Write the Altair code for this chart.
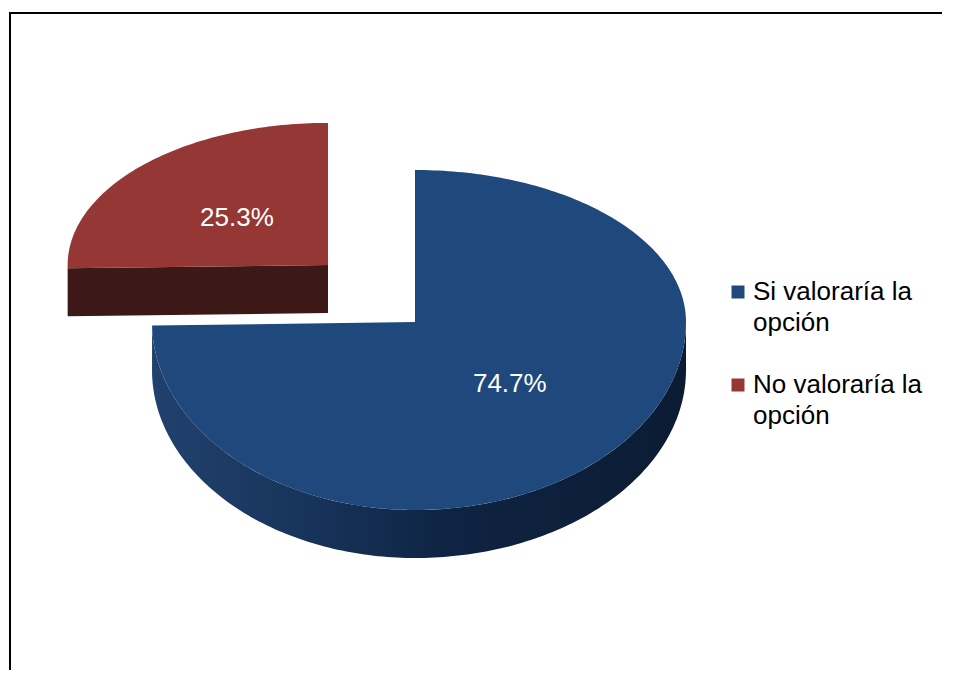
import math
import numpy as np
import pandas as pd
import altair as alt

# ---- data ----
categories = ["Si valoraría la opción", "No valoraría la opción"]
values = [74.7, 25.3]
pct_labels = ["74.7%", "25.3%"]
top_colors = ["#1F497D", "#953735"]

# ---- layout / style (not data) ----
PAD_L, PAD_T = 10, 13
W, H = 932, 657
CX, CY = 415 - PAD_L, 322 - PAD_T          # pie centre inside the frame
A_LEFT, A_RIGHT, B_UP, B_DOWN = 263, 271, 152, 188   # perspective ellipse half-axes
DEPTH = 48
EXPLODE = [(0, 0, 1.0, 1.0), (-87, -57, 0.99, 0.935)]  # dx, dy, sx, sy per slice
LABEL_RX, LABEL_RY = 0.49, 0.47
FONT = "Liberation Sans"

side_fill = [
    alt.Gradient(gradient="linear", x1=0, x2=1, y1=0, y2=0,
                 stops=[alt.GradientStop(color="#21416D", offset=0),
                        alt.GradientStop(color="#17335A", offset=0.3),
                        alt.GradientStop(color="#0F2443", offset=0.55),
                        alt.GradientStop(color="#0B1B33", offset=1)]),
    "#3C1816",
]

total = sum(values)
frac = [v / total for v in values]
starts = np.cumsum([0.0] + frac[:-1])
ends = starts + np.array(frac)


def rim(theta, k, drop=0.0):
    dx, dy, sx, sy = EXPLODE[k]
    s, c = math.sin(theta), math.cos(theta)
    a = A_RIGHT if s >= 0 else A_LEFT
    b = B_UP if c >= 0 else B_DOWN
    return (CX + dx + sx * a * s, CY + dy - sy * b * c + drop)


def centre(k, drop=0.0):
    dx, dy, _, _ = EXPLODE[k]
    return (CX + dx, CY + dy + drop)


top_rows, side_rows, label_rows = [], [], []
for k, cat in enumerate(categories):
    t0, t1 = 2 * math.pi * starts[k], 2 * math.pi * ends[k]
    n = max(3, int(frac[k] * 360))
    pts = [centre(k)] + [rim(t, k) for t in np.linspace(t0, t1, n)]
    for i, (x, y) in enumerate(pts):
        top_rows.append(dict(category=cat, poly=f"top{k}", i=i, x=x, y=y))
    w0, w1 = max(t0, math.pi / 2), min(t1, 3 * math.pi / 2)
    if w1 > w0:
        ts = np.linspace(w0, w1, max(3, int((w1 - w0) / (2 * math.pi) * 360)))
        pts = [rim(t, k) for t in ts] + [rim(t, k, DEPTH) for t in ts[::-1]]
        for i, (x, y) in enumerate(pts):
            side_rows.append(dict(slice=k, poly=f"wall{k}", i=i, x=x, y=y))
    for phi, visible in ((t0, math.sin(t0) < -1e-6), (t1, math.sin(t1) > 1e-6)):
        if visible:
            pts = [centre(k), rim(phi, k), rim(phi, k, DEPTH), centre(k, DEPTH)]
            for i, (x, y) in enumerate(pts):
                side_rows.append(dict(slice=k, poly=f"face{k}_{phi:.3f}", i=i, x=x, y=y))
    mid = (t0 + t1) / 2
    dx, dy, sx, sy = EXPLODE[k]
    s, c = math.sin(mid), math.cos(mid)
    a = A_RIGHT if s >= 0 else A_LEFT
    b = B_UP if c >= 0 else B_DOWN
    label_rows.append(dict(label=pct_labels[k],
                           x=CX + dx + LABEL_RX * sx * a * s,
                           y=CY + dy - LABEL_RY * sy * b * c))

top_df = pd.DataFrame(top_rows)
side_df = pd.DataFrame(side_rows)
label_df = pd.DataFrame(label_rows)

xs = alt.Scale(domain=[0, W], nice=False, zero=False)
ys = alt.Scale(domain=[H, 0], nice=False, zero=False)

layers = []
frame_left = alt.Chart(pd.DataFrame({"k": [0]})).mark_rule(color="black", strokeWidth=2).encode(
    x=alt.value(0), y=alt.value(-1), y2=alt.value(H + 20))
frame_top = alt.Chart(pd.DataFrame({"k": [0]})).mark_rule(color="black", strokeWidth=2).encode(
    x=alt.value(-1), x2=alt.value(W + 20), y=alt.value(0))
layers += [frame_left, frame_top]

for k in range(len(categories)):
    sub = side_df[side_df["slice"] == k]
    if len(sub) == 0:
        continue
    layers.append(
        alt.Chart(sub).mark_line(filled=True, interpolate="linear-closed",
                                 color=side_fill[k], strokeWidth=0).encode(
            x=alt.X("x:Q", scale=xs, axis=None),
            y=alt.Y("y:Q", scale=ys, axis=None),
            detail="poly:N",
            order="i:Q",
        )
    )

tops = alt.Chart(top_df).mark_line(filled=True, interpolate="linear-closed", strokeWidth=0).encode(
    x=alt.X("x:Q", scale=xs, axis=None),
    y=alt.Y("y:Q", scale=ys, axis=None),
    detail="poly:N",
    order="i:Q",
    color=alt.Color(
        "category:N",
        scale=alt.Scale(domain=categories, range=top_colors),
        legend=alt.Legend(
            title=None, orient="none", legendX=715, legendY=266,
            symbolType="square", symbolSize=169, symbolStrokeWidth=0,
            labelFont=FONT, labelFontSize=26, labelColor="black",
            labelLimit=400, labelOffset=2, rowPadding=36, padding=0,
            labelBaseline="middle",
            labelExpr="[slice(datum.label, 0, lastindexof(datum.label, ' ')), "
                      "slice(datum.label, lastindexof(datum.label, ' ') + 1)]",
        ),
    ),
)
layers.append(tops)

labels = alt.Chart(label_df).mark_text(
    font=FONT, fontSize=26, color="white", align="center", baseline="middle"
).encode(
    x=alt.X("x:Q", scale=xs, axis=None),
    y=alt.Y("y:Q", scale=ys, axis=None),
    text="label:N",
)
layers.append(labels)

chart = alt.layer(*layers).properties(
    width=W, height=H,
    padding={"left": PAD_L, "top": PAD_T, "right": 0, "bottom": 0},
    autosize="none",
    background="white",
).configure(
    style={"guide-label": {"lineHeight": 31}}
).configure_view(
    stroke=None
)

chart.save("out.html", embed_options={"renderer": "svg", "actions": False})
